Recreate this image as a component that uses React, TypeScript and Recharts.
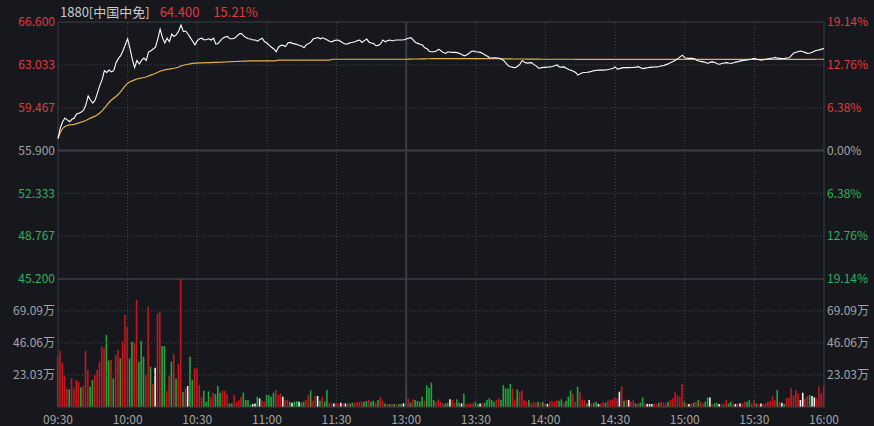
import { LineChart, Line, BarChart, Bar, Cell, XAxis, YAxis, ReferenceLine } from 'recharts';

// previous close, used for colouring and the % axis
const prevClose = 55.9;

const priceTicks = [66.6, 63.033, 59.467, 55.9, 52.333, 48.767, 45.2];
const volumeTicks = [23.03, 46.06, 69.09];
const volumeMax = 92.12;
const timeTicks = [0, 30, 60, 90, 120, 150, 180, 210, 240, 270, 300, 330];
const timeLabels = ['09:30', '10:00', '10:30', '11:00', '11:30', '13:00', '13:30', '14:00', '14:30', '15:00', '15:30', '16:00'];

// minute prices 09:30 - 12:00
const priceAM = [
  56.90, 57.80, 58.30, 58.60, 58.45, 58.30, 58.50, 58.60, 58.95, 59.00,
  59.10, 59.25, 59.70, 60.45, 60.10, 59.85, 60.10, 60.70, 61.30, 61.80,
  62.55, 62.40, 62.60, 62.45, 62.55, 63.20, 63.55, 63.80, 64.20, 64.70,
  65.20, 64.40, 63.50, 62.80, 63.40, 63.10, 63.40, 63.60, 63.40, 64.10,
  64.20, 64.35, 64.50, 65.20, 66.00, 65.30, 64.85, 65.25, 64.95, 65.60,
  65.40, 65.55, 65.85, 66.35, 65.80, 65.85, 65.60, 65.30, 65.00, 64.70,
  65.05, 65.20, 65.25, 65.10, 65.15, 65.20, 65.10, 65.25, 64.75, 64.80,
  65.05, 65.25, 65.35, 65.40, 65.20, 65.20, 65.25, 65.40, 65.60, 65.65,
  65.45, 65.30, 65.20, 65.18, 65.10, 65.10, 65.00, 65.15, 65.25, 64.95,
  64.85, 64.65, 64.50, 64.35, 64.12, 64.50, 64.65, 64.65, 64.55, 64.85,
  64.90, 64.82, 64.78, 64.72, 64.65, 64.60, 64.45, 64.72, 64.80, 64.95,
  65.20, 65.25, 65.30, 65.20, 65.28, 65.20, 65.10, 65.00, 64.95, 65.05,
  65.10, 65.08, 64.95, 64.82, 64.75, 64.80, 64.88, 64.92, 64.95, 65.05,
  65.10, 64.90, 65.05, 65.18, 64.92, 64.85, 64.80, 64.62, 64.65, 64.80,
  65.10, 64.95, 65.05, 65.10, 65.02, 65.08, 65.10, 65.10, 65.10, 65.12,
  65.18,
];

// minute prices 13:01 - 16:00
const pricePM = [
  65.25, 65.30, 65.12, 64.90, 64.82, 64.74, 64.68, 64.45, 64.38, 64.15,
  64.12, 64.12, 64.18, 64.32, 64.20, 64.05, 63.98, 64.12, 64.08, 64.07,
  64.07, 64.05, 63.98, 63.90, 63.78, 63.85, 63.98, 64.15, 64.18, 64.12,
  64.10, 64.07, 63.98, 63.85, 63.75, 63.62, 63.60, 63.62, 63.60, 63.57,
  63.52, 63.40, 63.18, 62.95, 62.88, 62.82, 62.80, 62.92, 63.10, 63.40,
  63.25, 63.18, 63.20, 63.22, 63.05, 62.95, 62.75, 62.78, 62.82, 62.82,
  62.85, 62.86, 62.90, 62.95, 63.02, 62.86, 62.84, 62.86, 62.75, 62.65,
  62.58, 62.50, 62.40, 62.18, 62.30, 62.38, 62.40, 62.42, 62.45, 62.50,
  62.55, 62.58, 62.59, 62.59, 62.59, 62.60, 62.64, 62.68, 62.73, 62.86,
  62.68, 62.72, 62.78, 62.80, 62.81, 62.80, 62.81, 62.82, 62.84, 62.88,
  62.80, 62.72, 62.76, 62.79, 62.82, 62.84, 62.85, 62.86, 62.90, 62.95,
  62.98, 63.05, 63.12, 63.22, 63.30, 63.42, 63.55, 63.70, 63.84, 63.62,
  63.58, 63.57, 63.58, 63.56, 63.44, 63.35, 63.32, 63.28, 63.22, 63.15,
  63.26, 63.28, 63.22, 63.12, 63.08, 63.14, 63.18, 63.22, 63.18, 63.15,
  63.20, 63.26, 63.30, 63.36, 63.38, 63.42, 63.44, 63.48, 63.52, 63.57,
  63.50, 63.46, 63.42, 63.46, 63.50, 63.54, 63.57, 63.60, 63.65, 63.58,
  63.57, 63.56, 63.57, 63.60, 63.62, 63.82, 64.02, 64.08, 64.14, 64.18,
  64.12, 64.05, 63.98, 64.02, 64.08, 64.18, 64.25, 64.28, 64.34, 64.40,
];

// average price line
const avgAM = [
  56.90, 57.40, 57.75, 57.90, 57.98, 58.03, 58.05, 58.08, 58.14, 58.20,
  58.27, 58.33, 58.40, 58.50, 58.60, 58.68, 58.76, 58.88, 59.02, 59.20,
  59.42, 59.65, 59.90, 60.10, 60.25, 60.40, 60.58, 60.80, 61.05, 61.30,
  61.50, 61.62, 61.70, 61.78, 61.85, 61.90, 61.94, 61.98, 62.02, 62.10,
  62.18, 62.25, 62.33, 62.42, 62.50, 62.56, 62.62, 62.65, 62.68, 62.72,
  62.75, 62.79, 62.83, 62.95, 63.00, 63.04, 63.08, 63.12, 63.15, 63.17,
  63.18, 63.19, 63.20, 63.20, 63.21, 63.21, 63.22, 63.23, 63.23, 63.24,
  63.25, 63.26, 63.27, 63.28, 63.29, 63.30, 63.31, 63.31, 63.32, 63.33,
  63.34, 63.35, 63.36, 63.36, 63.36, 63.37, 63.37, 63.37, 63.37, 63.37,
  63.37, 63.37, 63.37, 63.37, 63.38, 63.42, 63.42, 63.42, 63.42, 63.42,
  63.42, 63.42, 63.42, 63.42, 63.42, 63.42, 63.42, 63.42, 63.42, 63.42,
  63.42, 63.42, 63.42, 63.42, 63.42, 63.42, 63.42, 63.42, 63.50, 63.50,
  63.50, 63.50, 63.50, 63.50, 63.50, 63.50, 63.50, 63.50, 63.50, 63.50,
  63.50, 63.50, 63.50, 63.50, 63.50, 63.50, 63.50, 63.50, 63.50, 63.50,
  63.50, 63.50, 63.50, 63.50, 63.50, 63.50, 63.50, 63.50, 63.50, 63.50,
  63.50,
];

const avgPM = [
  63.51, 63.51, 63.52, 63.52, 63.52, 63.53, 63.53, 63.53, 63.54, 63.54,
  63.55, 63.55, 63.55, 63.55, 63.55, 63.55, 63.55, 63.55, 63.55, 63.55,
  63.55, 63.55, 63.55, 63.55, 63.55, 63.55, 63.55, 63.55, 63.55, 63.55,
  63.55, 63.55, 63.55, 63.55, 63.55, 63.55, 63.54, 63.54, 63.54, 63.54,
  63.54, 63.54, 63.53, 63.53, 63.53, 63.52, 63.52, 63.52, 63.52, 63.52,
  63.52, 63.51, 63.51, 63.51, 63.51, 63.51, 63.51, 63.50, 63.50, 63.50,
  63.50, 63.50, 63.50, 63.50, 63.50, 63.50, 63.50, 63.50, 63.50, 63.50,
  63.50, 63.50, 63.49, 63.49, 63.49, 63.49, 63.49, 63.49, 63.49, 63.49,
  63.49, 63.49, 63.49, 63.49, 63.49, 63.49, 63.49, 63.49, 63.49, 63.49,
  63.49, 63.49, 63.49, 63.49, 63.49, 63.49, 63.49, 63.49, 63.49, 63.49,
  63.49, 63.49, 63.49, 63.49, 63.49, 63.49, 63.49, 63.49, 63.49, 63.49,
  63.49, 63.49, 63.49, 63.49, 63.49, 63.49, 63.49, 63.49, 63.49, 63.49,
  63.49, 63.49, 63.49, 63.49, 63.49, 63.49, 63.49, 63.49, 63.49, 63.49,
  63.49, 63.49, 63.49, 63.49, 63.49, 63.49, 63.49, 63.49, 63.49, 63.49,
  63.49, 63.49, 63.49, 63.49, 63.49, 63.49, 63.49, 63.49, 63.49, 63.49,
  63.49, 63.49, 63.49, 63.49, 63.49, 63.49, 63.49, 63.49, 63.49, 63.49,
  63.49, 63.49, 63.49, 63.49, 63.49, 63.49, 63.49, 63.49, 63.49, 63.49,
  63.49, 63.49, 63.49, 63.49, 63.49, 63.49, 63.50, 63.50, 63.50, 63.50,
];

// volume per minute, in 万 shares
const volAM = [
  35.8, 40.5, 31.9, 22.3, 13.4, 12.7, 20.6, 13.4, 19.4, 18.2,
  14.1, 15.1, 40.3, 26.6, 14.6, 19.4, 23.0, 26.6, 32.6, 43.4,
  42.2, 51.8, 33.4, 33.8, 20.6, 37.4, 41.0, 35.0, 47.0, 66.2,
  57.8, 35.0, 47.0, 46.3, 77.0, 32.6, 47.5, 36.2, 23.0, 72.2,
  29.0, 16.3, 28.3, 67.4, 68.6, 43.9, 43.9, 11.3, 22.3, 32.6,
  38.1, 20.6, 30.9, 92.0, 11.0, 13.4, 15.1, 36.2, 19.4, 27.8,
  27.8, 15.8, 7.4, 11.7, 3.8, 11.3, 7.0, 10.3, 9.4, 15.1,
  10.3, 11.7, 11.7, 9.4, 2.6, 2.6, 8.6, 3.8, 5.0, 7.4,
  10.3, 5.0, 5.0, 1.4, 2.2, 2.6, 7.4, 6.2, 4.6, 3.8,
  8.6, 8.6, 7.4, 10.3, 12.2, 8.6, 9.8, 7.4, 4.9, 5.2,
  3.8, 3.1, 3.8, 4.3, 3.8, 3.1, 3.8, 5.0, 8.6, 11.8,
  4.5, 8.0, 8.0, 4.5, 7.4, 3.8, 12.2, 3.1, 2.6, 2.6,
  3.1, 2.6, 3.1, 2.6, 2.6, 2.6, 2.6, 3.1, 3.1, 3.6,
  3.6, 3.8, 3.8, 4.3, 5.0, 3.8, 4.5, 3.1, 5.0, 6.9,
  4.5, 2.6, 2.2, 2.2, 2.2, 2.2, 2.2, 2.2, 2.2, 2.6,
  16.3,
];

const volPM = [
  6.2, 3.1, 5.5, 5.0, 4.3, 3.8, 7.4, 4.5, 15.5, 13.6,
  17.5, 5.0, 3.8, 5.5, 3.8, 2.6, 2.6, 3.1, 5.5, 5.0,
  3.1, 5.5, 3.1, 2.6, 9.5, 2.2, 2.2, 2.6, 3.1, 3.8,
  2.2, 2.6, 2.6, 3.1, 5.0, 6.2, 5.0, 3.8, 5.0, 6.2,
  5.0, 15.8, 13.4, 13.4, 16.6, 13.4, 5.5, 12.7, 11.0, 11.8,
  5.0, 3.8, 5.0, 2.6, 3.8, 3.1, 3.8, 3.1, 3.8, 2.2,
  2.2, 3.8, 4.5, 3.8, 5.0, 4.5, 5.5, 3.1, 4.5, 7.4,
  11.8, 9.4, 3.8, 14.6, 11.0, 5.5, 5.0, 2.6, 5.0, 2.6,
  3.1, 3.8, 2.2, 2.6, 3.8, 3.1, 4.5, 5.0, 5.5, 6.9,
  6.2, 11.0, 14.9, 4.5, 5.5, 5.0, 3.8, 5.0, 2.6, 2.6,
  3.1, 6.9, 2.6, 2.2, 2.2, 2.2, 2.6, 2.2, 3.1, 3.8,
  3.1, 2.6, 3.8, 5.0, 6.2, 11.0, 8.6, 7.4, 16.6, 3.8,
  2.6, 2.2, 2.6, 3.1, 3.8, 5.0, 3.8, 2.6, 3.8, 6.9,
  6.9, 2.2, 2.6, 3.1, 2.2, 2.2, 2.6, 5.0, 2.6, 3.8,
  2.6, 2.2, 2.6, 2.6, 2.6, 3.8, 3.8, 5.0, 2.6, 5.0,
  2.6, 2.2, 2.6, 2.2, 2.6, 3.8, 4.5, 7.9, 5.0, 12.2,
  3.8, 3.1, 2.2, 6.2, 6.9, 13.4, 8.6, 12.2, 9.8, 5.0,
  10.2, 6.2, 7.9, 8.6, 7.9, 6.9, 6.2, 14.6, 9.8, 15.4,
];

// R = up minute, G = down minute, W = unchanged
const dirAM =
  'RRRRRGRRRR' + 'GRRRGGRRRR' + 'RGGRGRRGRR' + 'RGGRRGGGRR' + 'GRWRRGGRRG' +
  'RGRRGRWGGR' + 'RRRGGGRRGG' + 'GRRRGGRRRR' + 'GGGGWWGWRR' + 'GGGGRRRWRR' +
  'GWGGWGGRRG' + 'RRWGRGGRRW' + 'RRWRWRGGRR' + 'RRGGRGGRGR' + 'RGRGRGRGGW' + 'R';
const dirPM =
  'RGRGGGGRGG' + 'GGRRRRGGWR' + 'RGGWGRRRRG' + 'GWRGGGGGRR' + 'GGGGGRRGRR' +
  'RRGRRRGRGR' + 'WRRRRGGRGG' + 'GRRGRRRGWR' + 'GGWRRGRRRR' + 'RWRGRWRRGR' +
  'GGRWWWRRGR' + 'RRGRRRRRRG' + 'RWRGRGRRGG' + 'WRGGWRRRGG' + 'RWRWRRGGRR' +
  'GRWRRRRRRG' + 'RWGRRRRRRW' + 'WRRGWWRRRR';

const BG = '#16181d';
const GRID = '#44474f';
const BORDER = '#3b3e45';
const TXT_RED = '#e03a40';
const TXT_GREEN = '#2db35d';
const TXT_GRAY = '#a3a3a3';
const BAR_COLORS: Record<string, string> = { R: '#c8161d', G: '#1fa83c', W: '#f2f2f2' };

const prices = [...priceAM, ...pricePM];
const avgs = [...avgAM, ...avgPM];
const vols = [...volAM, ...volPM];
const dirs = (dirAM + dirPM).split('');

const priceData = prices.map((p, i) => ({ t: i, price: p, avg: avgs[i] }));
const volumeData = vols.map((v, i) => ({ t: i, vol: v, dir: dirs[i] }));

const textColor = (v: number) => {
  if (v > prevClose + 0.0005) return TXT_RED;
  if (v < prevClose - 0.0005) return TXT_GREEN;
  return TXT_GRAY;
};

function PriceTick({ x, y, payload, textAnchor }: any) {
  return (
    <text x={x} y={y} dy="0.36em" textAnchor={textAnchor} fill={textColor(payload.value)} fontSize={12}>
      {payload.value.toFixed(3)}
    </text>
  );
}

function PctTick({ x, y, payload, textAnchor }: any) {
  const pct = ((payload.value - prevClose) / prevClose) * 100;
  return (
    <text x={x} y={y} dy="0.36em" textAnchor={textAnchor} fill={textColor(payload.value)} fontSize={12}>
      {Math.abs(pct).toFixed(2)}%
    </text>
  );
}

function VolTick({ x, y, payload, textAnchor }: any) {
  return (
    <text x={x} y={y} dy="0.36em" textAnchor={textAnchor} fill={TXT_GRAY} fontSize={12}>
      {payload.value.toFixed(2)}万
    </text>
  );
}

// vertical time grid; 13:00 (lunch break) gets the solid line
const timeGrid = (axisId: string) =>
  timeTicks.map((t) =>
    t === 150 ? (
      <ReferenceLine key={`v${t}`} x={t} yAxisId={axisId} stroke={BORDER} strokeWidth={2} />
    ) : t === 0 || t === 330 ? (
      <ReferenceLine key={`v${t}`} x={t} yAxisId={axisId} stroke={BORDER} />
    ) : (
      <ReferenceLine key={`v${t}`} x={t} yAxisId={axisId} stroke={GRID} strokeDasharray="1 2" />
    )
  );

export default function App() {
  return (
    <div
      style={{
        position: 'fixed',
        left: 0,
        top: 0,
        width: 874,
        height: 426,
        background: BG,
        fontFamily: '"Noto Sans CJK SC", "Noto Sans", sans-serif',
        overflow: 'hidden',
      }}
    >
      {/* title row */}
      <div style={{ position: 'absolute', left: 60, top: 3, fontSize: 13, lineHeight: '17px', whiteSpace: 'nowrap' }}>
        <span style={{ color: '#c9c9c9' }}>1880[中国中免]</span>
        <span style={{ color: TXT_RED, marginLeft: 10 }}>64.400</span>
        <span style={{ color: TXT_RED, marginLeft: 14 }}>15.21%</span>
      </div>

      {/* price panel */}
      <div style={{ position: 'absolute', left: 0, top: 0 }}>
        <LineChart width={874} height={290} data={priceData} margin={{ top: 22, right: 0, bottom: 11, left: 0 }}>
          <XAxis dataKey="t" type="number" domain={[0, 330]} ticks={timeTicks} hide />
          <YAxis
            yAxisId="left"
            domain={[45.2, 66.6]}
            ticks={priceTicks}
            width={58}
            axisLine={false}
            tickLine={false}
            tickSize={0}
            tickMargin={3}
            tick={PriceTick}
            allowDataOverflow
          />
          <YAxis
            yAxisId="right"
            orientation="right"
            domain={[45.2, 66.6]}
            ticks={priceTicks}
            width={50}
            axisLine={false}
            tickLine={false}
            tickSize={0}
            tickMargin={3}
            tick={PctTick}
            allowDataOverflow
          />
          {[63.033, 59.467, 52.333, 48.767].map((v) => (
            <ReferenceLine key={`h${v}`} y={v} yAxisId="left" stroke={GRID} strokeDasharray="1 2" />
          ))}
          {timeGrid('left')}
          <ReferenceLine y={66.6} yAxisId="left" stroke={BORDER} />
          <ReferenceLine y={55.9} yAxisId="left" stroke={BORDER} strokeWidth={2} />
          <ReferenceLine y={45.2} yAxisId="left" stroke={BORDER} strokeWidth={1.5} />
          <Line
            yAxisId="right"
            type="linear"
            dataKey="avg"
            stroke="#e4b24c"
            strokeWidth={1.2}
            dot={false}
            isAnimationActive={false}
          />
          <Line
            yAxisId="left"
            type="linear"
            dataKey="price"
            stroke="#ffffff"
            strokeWidth={1.1}
            dot={false}
            isAnimationActive={false}
          />
        </LineChart>
      </div>

      {/* volume panel */}
      <div style={{ position: 'absolute', left: 0, top: 279 }}>
        <BarChart width={874} height={147} data={volumeData} margin={{ top: 0, right: 0, bottom: 0, left: 0 }}>
          <XAxis
            dataKey="t"
            type="number"
            domain={[0, 330]}
            ticks={timeTicks}
            tickFormatter={(v: number) => timeLabels[timeTicks.indexOf(v)]}
            height={19}
            axisLine={{ stroke: BORDER }}
            tickLine={false}
            tick={{ fill: TXT_GRAY, fontSize: 12 }}
            interval={0}
          />
          <YAxis
            yAxisId="left"
            domain={[0, volumeMax]}
            ticks={volumeTicks}
            width={58}
            axisLine={false}
            tickLine={false}
            tickSize={0}
            tickMargin={3}
            tick={VolTick}
            allowDataOverflow
          />
          <YAxis
            yAxisId="right"
            orientation="right"
            domain={[0, volumeMax]}
            ticks={volumeTicks}
            width={50}
            axisLine={false}
            tickLine={false}
            tickSize={0}
            tickMargin={3}
            tick={VolTick}
            allowDataOverflow
          />
          {volumeTicks.map((v) => (
            <ReferenceLine key={`vh${v}`} y={v} yAxisId="left" stroke={GRID} strokeDasharray="1 2" />
          ))}
          {timeGrid('left')}
          <Bar yAxisId="left" dataKey="vol" barSize={1.6} isAnimationActive={false}>
            {volumeData.map((d) => (
              <Cell key={d.t} fill={BAR_COLORS[d.dir]} />
            ))}
          </Bar>
        </BarChart>
      </div>
    </div>
  );
}
